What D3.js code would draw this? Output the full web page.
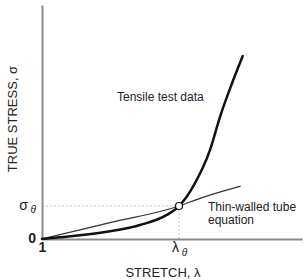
<!DOCTYPE html>
<head>
    <meta charset="utf-8">
    <style>
        body { margin: 0; background: #fff; }
        text { font-family: "Liberation Sans", Arial, sans-serif; fill: #222; }
    </style>
    <script src="https://d3js.org/d3.v7.min.js"></script>
</head>
<body>
    <div id="chart"></div>
    <script>

        // tensile test curve (stretch λ, true stress σ)
        var tensileStretch = [1, 1.069, 1.249, 1.377, 1.480, 1.527, 1.588, 1.646, 1.685, 1.727, 1.772];
        var tensileStress  = [0, 0.007, 0.031, 0.060, 0.103, 0.141, 0.238, 0.380, 0.523, 0.654, 0.782];

        // thin-walled tube equation
        var tubeStretch = [1, 1.262, 1.527, 1.608, 1.764];
        var tubeStress  = [0, 0.070, 0.141, 0.174, 0.226];

        // crossing point
        var lambdaTheta = 1.527,
            sigmaTheta = 0.141;

        var xTicks = [1, lambdaTheta],
            xTickLabels = ["1", "λ|θ"];
        var yTicks = [0, sigmaTheta],
            yTickLabels = ["0", "σ|θ"];

        var W = 304, H = 280;
        var margin = {top: 5, right: 2, bottom: 41, left: 42};

        var svg = d3.select("#chart").append("svg")
            .attr("width", W)
            .attr("height", H);

        var x = d3.scaleLinear()
            .domain([1, 2])
            .range([margin.left, W - margin.right]);

        var y = d3.scaleLinear()
            .domain([0, 1])
            .range([H - margin.bottom, margin.top]);

        function splitLabel(sel, labels, big, small) {
            sel.each(function(d, i) {
                var parts = labels[i].split("|");
                var t = d3.select(this).text(null);
                t.append("tspan").attr("font-size", big).text(parts[0]);
                if (parts[1]) {
                    t.append("tspan").text(" ");
                    t.append("tspan")
                        .attr("font-size", small)
                        .attr("font-style", "italic")
                        .attr("dy", "0.35em")
                        .text(parts[1]);
                } else {
                    t.attr("font-weight", 600);
                }
            });
        }

        // guide lines
        svg.append("path")
            .attr("d", "M" + x(1) + "," + y(sigmaTheta) + "H" + x(lambdaTheta) + "V" + y(0))
            .attr("fill", "none")
            .attr("stroke", "#c4c4c4")
            .attr("stroke-width", 1)
            .attr("stroke-dasharray", "2,2");

        var xx = svg.append("g")
            .attr("transform", "translate(0," + y(0) + ")")
            .call(d3.axisBottom(x).tickValues(xTicks).tickSize(0).tickSizeOuter(0).tickPadding(6));

        var yx = svg.append("g")
            .attr("transform", "translate(" + x(1) + ",0)")
            .call(d3.axisLeft(y).tickValues(yTicks).tickSize(0).tickSizeOuter(0).tickPadding(6));

        [xx, yx].forEach(function(a) {
            a.select(".domain").attr("stroke", "#8a8a8a").attr("stroke-width", 2);
        });

        splitLabel(xx.selectAll(".tick text"), xTickLabels, 14, 10);
        splitLabel(yx.selectAll(".tick text"), yTickLabels, 14, 10);
        xx.selectAll(".tick text").attr("fill", "#222");
        yx.selectAll(".tick text").attr("fill", "#222");

        // tube line
        svg.append("path")
            .datum(d3.range(tubeStretch.length))
            .attr("fill", "none")
            .attr("stroke", "#333")
            .attr("stroke-width", 1.3)
            .attr("d", d3.line()
                .curve(d3.curveMonotoneX)
                .x(i => x(tubeStretch[i]))
                .y(i => y(tubeStress[i])));

        // tensile curve
        svg.append("path")
            .datum(d3.range(tensileStretch.length))
            .attr("fill", "none")
            .attr("stroke", "#111")
            .attr("stroke-width", 2.5)
            .attr("stroke-linecap", "round")
            .attr("d", d3.line()
                .curve(d3.curveMonotoneX)
                .x(i => x(tensileStretch[i]))
                .y(i => y(tensileStress[i])));

        svg.append("circle")
            .attr("cx", x(lambdaTheta))
            .attr("cy", y(sigmaTheta))
            .attr("r", 3.5)
            .attr("fill", "#fff")
            .attr("stroke", "#111")
            .attr("stroke-width", 1.2);

        // texts
        svg.append("text")
            .attr("transform", "translate(17,119) rotate(-90)")
            .attr("text-anchor", "middle")
            .attr("font-size", 13)
            .text("TRUE STRESS, σ");

        svg.append("text")
            .attr("x", 163)
            .attr("y", 277)
            .attr("text-anchor", "middle")
            .attr("font-size", 13)
            .text("STRETCH, λ");

        svg.append("text")
            .attr("x", 117)
            .attr("y", 101)
            .attr("font-size", 12)
            .text("Tensile test data");

        svg.append("text")
            .attr("x", 208)
            .attr("y", 210.5)
            .attr("font-size", 12)
            .text("Thin-walled tube");

        svg.append("text")
            .attr("x", 208)
            .attr("y", 223.5)
            .attr("font-size", 12)
            .text("equation");

    </script>
</body>
